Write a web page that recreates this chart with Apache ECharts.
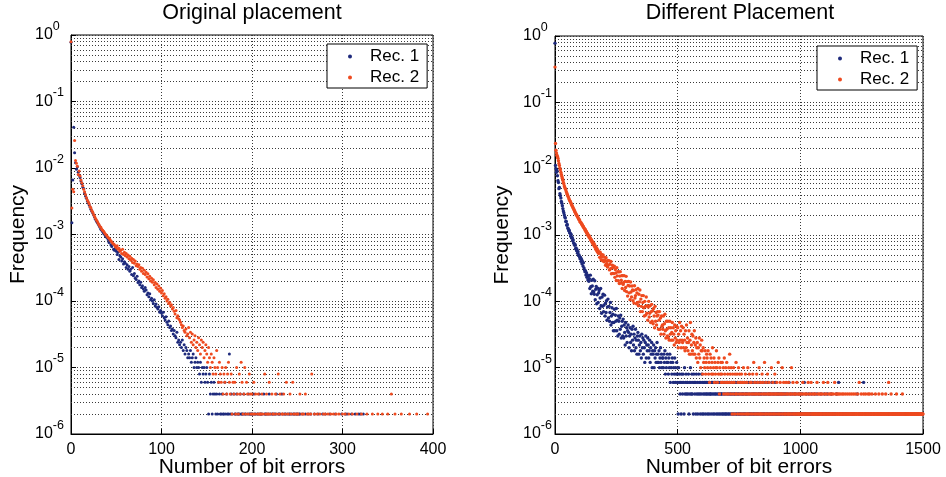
<!DOCTYPE html>
<html><head><meta charset="utf-8">
<script src="https://cdn.jsdelivr.net/npm/echarts@6/dist/echarts.min.js"></script>
<style>html,body{margin:0;padding:0;background:#fff}#c{width:946px;height:477px}</style>
</head><body><div id="c"></div>
<script>
// Frequency = count / TOTAL_FRAMES (counts)
const TOTAL_FRAMES = 500000;

// Left panel: index = number of bit errors (step 1)
const origRec1Counts = [
390000,750,3300,20500,8500,6000,4800,5200,4300,3900,
3600,3200,2900,2600,2450,2100,1900,1750,1600,1500,
1400,1300,1200,1120,1050,980,920,850,800,760,
720,680,640,600,580,550,520,505,480,460,
450,420,380,400,350,330,360,300,290,310,
280,250,270,210,240,230,200,215,180,195,
185,160,175,150,165,140,150,125,160,120,
130,110,105,118,95,100,88,96,80,85,
76,70,80,73,62,66,58,64,52,55,
50,46,52,42,45,40,38,41,34,36,
33,30,34,28,26,29,24,22,25,20,
21,18,19,16,18,15,14,17,12,13,
11,12,10,13,9,11,8,10,9,7,
8,7,9,6,7,8,5,6,7,5,
6,5,4,6,3,5,4,5,3,4,
5,3,1,4,2,3,1,2,3,2,
1,2,1,3,2,1,1,2,1,1,
3,1,2,1,1,8,1,2,1,0,
2,1,1,2,1,1,1,2,1,1,
1,2,1,1,0,1,2,1,1,1,
1,1,2,1,1,0,1,1,2,1,
1,1,0,2,1,1,1,0,1,2,
1,0,1,1,0,1,1,2,0,1,
1,1,0,2,1,0,1,1,0,1,
0,1,1,0,1,0,1,1,0,1,
1,0,1,1,0,0,1,0,0,1,
0,0,1,0,0,1,0,0,0,1,
0,0,0,1,0,0,0,0,1,0,
0,1,0,0,0,0,1,0,0,0,
0,0,1,0,0,0,0,0,0,1,
0,0,0,1,0,1,0,0,0,0,
1,0,0,0,1,0,0,0,1,0,
1,0,0,1
];
const origRec2Counts = [
395000,1250,2400,2200,13000,6500,5900,5300,4000,4500,
3800,3300,3000,2700,2400,2200,2000,1800,1650,1550,
1450,1320,1250,1150,1080,1000,940,880,830,790,
740,700,660,640,600,580,560,530,510,490,
470,450,440,420,400,390,370,360,350,330,
320,340,300,310,280,290,260,300,250,270,
240,260,230,245,215,235,205,220,190,210,
185,200,170,180,165,175,150,160,140,155,
130,145,125,135,115,128,108,118,100,110,
96,104,88,95,80,90,75,84,70,78,
66,72,60,64,55,58,50,53,46,48,
42,44,38,40,35,32,36,28,30,27,
26,24,22,20,21,18,17,19,15,16,
20,14,17,12,16,11,13,15,10,12,
9,14,11,8,13,10,12,7,9,11,
8,6,10,7,5,8,6,4,7,5,
4,9,5,3,6,4,3,5,2,4,
3,5,2,4,6,3,2,4,1,3,
2,3,1,5,2,1,4,2,6,3,
1,2,5,1,3,2,1,4,2,1,
2,1,3,1,2,0,1,2,1,1,
1,2,1,0,4,1,2,1,1,3,
1,0,2,1,1,0,2,1,0,4,
1,2,0,1,1,2,0,1,3,0,
1,0,2,1,0,3,1,0,1,0,
1,1,0,2,0,1,0,1,0,2,
0,1,0,1,0,1,4,0,0,1,
0,0,1,0,0,1,0,0,0,1,
0,1,0,0,1,0,0,1,0,0,
1,0,0,1,0,0,1,0,0,0,
1,0,0,1,0,0,0,1,0,0,
0,1,0,0,0,0,1,0,0,0,
0,1,0,0,0,0,0,1,0,0,
0,0,0,1,0,0,0,0,0,1,
0,0,0,0,1,0,0,0,0,0,
1,0,0,0,2,0,0,0,1,0,
0,0,0,0,0,1,0,0,0,0,
0,0,0,0,1,0,0,0,0,0,
0,0,1,0,0,0,0,0,0,0,
0,0,0,0,1
];

// Right panel: sampled at even numbers of bit errors (x = index * 2)
const diffXStep = 2;
const diffRec1Counts = [
390000,5600,5000,4400,4700,3900,3300,3100,2500,2600,
2100,1950,1800,1600,1500,1380,1250,1150,1080,1000,
930,900,800,800,700,720,640,620,580,590,
540,530,480,510,450,460,410,420,380,370,
350,360,310,320,290,300,265,280,245,250,
235,220,230,200,215,185,200,170,190,160,
150,140,145,125,135,115,125,105,120,100,
110,78,124,83,65,104,85,71,108,70,
64,102,53,76,84,46,63,79,48,67,
73,39,56,78,43,33,58,42,64,35,
44,62,30,47,34,51,26,41,54,28,
42,25,34,48,22,30,40,24,32,18,
24,38,18,31,25,39,18,26,15,30,
25,16,28,19,31,14,21,25,15,27,
14,22,17,11,24,15,20,12,18,22,
17,10,15,20,12,16,9,19,13,21,
11,16,9,14,19,10,13,8,15,17,
13,8,11,15,9,12,7,16,10,14,
8,13,10,6,12,15,7,11,9,14,
11,7,9,13,6,10,8,12,5,9,
8,11,5,9,7,10,6,8,12,6,
8,6,9,5,7,10,6,8,5,7,
7,5,8,6,9,4,7,5,6,8,
6,4,7,5,8,3,6,5,4,7,
6,3,5,4,7,3,5,4,6,3,
4,1,5,3,4,2,3,1,4,3,
2,4,3,1,5,2,3,4,2,3,
3,2,4,1,3,2,5,3,2,4,
2,3,1,4,3,2,3,1,4,2,
3,1,2,4,3,2,1,3,2,4,
1,3,2,1,3,2,3,1,2,3,
2,1,3,2,1,3,2,2,1,3,
2,3,1,2,3,1,2,3,2,1,
3,2,1,3,2,1,2,3,1,2,
2,1,3,1,2,3,1,2,1,3,
1,2,3,1,2,1,3,2,1,2,
3,1,2,1,3,2,1,2,3,1,
2,1,3,2,1,2,1,3,1,2,
1,3,2,1,2,1,3,1,2,1,
2,3,1,2,1,3,1,2,1,3,
1,2,1,3,2,1,1,2,3,1,
2,1,3,1,2,1,2,3,1,2,
1,2,1,3,1,2,1,1,2,3,
1,2,1,1,3,2,1,2,1,1,
2,1,3,1,2,1,1,2,1,3,
1,2,1,1,2,1,2,1,1,2,
1,1,2,1,0,2,1,1,2,1,
1,2,1,1,0,2,1,3,1,1,
2,1,0,1,2,1,1,0,2,1,
1,2,1,0,1,1,2,1,0,1,
2,1,1,0,2,1,0,1,3,1,
1,0,2,1,1,0,1,2,0,1,
1,0,1,2,0,1,1,0,1,2,
0,1,1,0,2,1,0,1,0,1,
1,0,2,0,1,1,0,1,0,2,
1,0,1,0,1,2,0,1,0,1,
0,1,0,2,1,0,1,0,1,0,
1,0,1,0,2,0,1,0,3,0,
1,0,1,0,0,1,0,1,0,0,
1,0,0,1,0,1,0,0,1,0,
0,1,0,0,1,0,0,1,0,0,
1,0,0,0,1,0,2,0,0,1,
0,0,1,0,0,0,1,0,0,3,
0,1,0,0,1,0,0,0,1,0,
0,0,1,0,0,1,0,0,0,1,
0,0,1,0,0,0,1,0,0,0,
1,0,0,0,1,0,0,1,0,0,
0,1,0,0,0,1,0,0,0,1,
0,0,1,0,0,0,0,1,0,0,
1,0,0,0,1,0,0,0,1,0,
0,0,1,0,0,0,0,1,0,0,
0,1,0,0,0,1,0,0,0,0,
1,0,0,0,0,1,0,0,0,1,
0,0,0,1,0,0,0,0,1,0,
0,1,0,0,0,0,1,0,0,1,
0
];
const diffRec2Counts = [
170000,12000,9500,8600,8000,7600,7200,6600,6000,5600,
5100,4800,4400,4100,3800,3600,3350,3100,2950,2750,
2600,2500,2400,2250,2150,2050,1950,1880,1800,1720,
1650,1600,1540,1480,1420,1380,1320,1280,1230,1190,
1150,1100,1070,1030,1000,970,940,910,880,850,
840,795,780,768,735,725,700,672,668,635,
630,595,600,560,565,528,530,495,500,468,
485,445,452,418,428,392,402,370,382,350,
365,330,342,305,325,290,308,275,290,262,
273,230,275,233,211,255,232,205,251,209,
198,232,207,175,227,185,201,165,207,176,
205,149,181,155,199,130,160,176,132,163,
131,170,115,151,134,103,161,121,140,102,
139,93,120,140,94,104,122,78,122,90,
96,122,73,100,81,119,70,99,60,87,
100,67,85,53,98,69,58,85,74,51,
73,47,86,56,61,75,46,67,48,78,
43,64,49,74,35,54,42,61,35,48,
61,40,30,50,42,31,58,33,43,26,
41,50,29,33,43,24,35,45,25,36,
23,39,30,20,42,25,34,22,30,35,
31,19,26,35,19,28,16,30,21,22,
19,30,16,23,32,18,14,25,19,15,
25,14,20,13,25,16,20,13,17,24,
13,20,16,11,22,14,18,12,21,13,
20,10,16,12,24,13,18,10,21,13,
12,20,10,16,13,9,18,10,22,12,
14,9,12,18,8,13,24,8,11,16,
9,15,8,12,18,8,11,14,7,10,
12,6,10,8,14,7,11,5,9,13,
9,4,10,6,7,5,9,4,6,8,
7,5,9,4,6,3,8,5,7,4,
6,10,4,5,7,3,6,4,5,9,
5,3,6,4,7,2,5,4,6,3,
4,6,3,5,2,7,4,3,5,2,
6,3,4,2,5,3,8,4,2,5,
3,1,4,2,5,3,1,4,2,6,
2,4,1,3,5,2,4,1,3,2,
4,1,3,2,5,1,3,2,4,1,
2,3,1,5,2,1,4,2,3,1,
3,2,1,4,2,6,1,3,2,1,
2,4,1,3,2,1,5,2,1,3,
1,2,4,1,3,2,1,6,2,1,
3,1,2,4,1,2,3,1,2,1,
2,5,1,2,3,1,2,1,4,2,
1,2,3,1,2,6,1,2,1,3,
2,1,2,5,1,2,3,1,2,1,
1,3,2,1,2,1,3,1,2,1,
2,1,5,2,1,3,1,2,1,2,
1,2,1,3,1,2,1,1,2,1,
2,1,1,2,1,3,1,2,1,1,
2,1,1,2,1,1,3,1,2,1,
1,2,3,1,1,2,1,1,2,1,
1,2,1,1,3,1,2,1,1,2,
1,1,2,1,1,2,1,3,1,1,
2,1,1,2,1,1,3,1,2,1,
1,2,1,1,2,1,1,2,1,1,
3,1,2,1,1,2,1,1,2,1,
1,2,1,1,1,2,1,1,2,1,
1,1,2,1,1,1,2,1,1,1,
2,1,1,1,2,1,1,1,2,1,
1,1,2,1,1,1,1,2,1,1,
3,1,1,1,2,1,1,1,1,2,
1,1,1,2,1,1,1,1,2,1,
1,2,1,1,1,1,2,1,1,1,
1,1,1,2,1,1,1,1,1,1,
2,1,1,1,1,1,1,2,1,1,
1,1,1,1,2,1,1,1,1,1,
3,1,1,1,1,2,1,1,1,1,
1,1,1,1,1,1,2,1,1,1,
1,1,1,1,1,1,1,1,2,1,
1,1,1,1,1,1,1,1,1,1,
1,1,1,1,1,1,1,1,1,1,
1,1,1,1,1,1,1,1,1,1,
1,1,1,1,1,1,1,1,1,1,
1
];

const panelTitles = ['Original placement', 'Different Placement'];
const seriesNames = ['Rec. 1', 'Rec. 2'];
const xAxisTitle = 'Number of bit errors';
const yAxisTitle = 'Frequency';
const xMaxes = [400, 1500];
const xIntervals = [100, 500];
const yMin = 1e-6, yMax = 1;
const minorMultipliers = [2, 3, 4, 5, 6, 7, 8, 9];
const decadeExponents = [-6, -5, -4, -3, -2, -1];

const FONT = '"Liberation Sans", Arial, Helvetica, sans-serif';
const BLUE = '#1e2a7c';
const ORANGE = '#ee4a1f';
const GRIDC = '#3a3a3a';

function toPoints(counts, step) {
  const out = [];
  counts.forEach((c, i) => { if (c > 0) out.push([i * step, c / TOTAL_FRAMES]); });
  return out;
}
function yLabel(v) {
  const e = Math.round(Math.log10(v));
  return '{b|10}{s|' + e + '}';
}
const minorLineData = [];
decadeExponents.forEach(e => minorMultipliers.forEach(m => minorLineData.push({ yAxis: m * Math.pow(10, e) })));

const panels = [
  { grid: { left: 71, top: 35, width: 362, height: 399 }, titleX: 252, labelMargin: 36, legend: { left: 327, top: 44 },
    dot: 3, data: [toPoints(origRec1Counts, 1), toPoints(origRec2Counts, 1)] },
  { grid: { left: 555, top: 36, width: 368, height: 398 }, titleX: 740, labelMargin: 32, legend: { left: 817, top: 46 },
    dot: 3.4, data: [toPoints(diffRec1Counts, diffXStep), toPoints(diffRec2Counts, diffXStep)] }
];

const dotted = { color: GRIDC, type: [1, 2], width: 1 };
const option = {
  animation: false,
  backgroundColor: '#fff',
  textStyle: { fontFamily: FONT, color: '#000' },
  title: panels.map((p, i) => ({
    text: panelTitles[i], left: p.titleX, textAlign: 'center', top: 2, padding: 0,
    textStyle: { fontSize: 21.5, fontWeight: 'normal', fontFamily: FONT, color: '#000' }
  })),
  legend: panels.map(p => ({
    left: p.legend.left, top: p.legend.top, orient: 'vertical', data: seriesNames,
    icon: 'circle', itemWidth: 4, itemHeight: 4, itemGap: 4, padding: [4, 8, 2, 21],
    borderColor: '#000', borderWidth: 1, backgroundColor: '#fff', selectedMode: false,
    textStyle: { fontSize: 17, fontFamily: FONT, color: '#000', padding: [0, 0, 0, 13], lineHeight: 17 }
  })),
  grid: panels.map(p => Object.assign({ show: true, borderColor: '#000', borderWidth: 1, backgroundColor: 'transparent',
    containLabel: false, outerBoundsMode: 'none' }, p.grid)),
  xAxis: panels.map((p, i) => ({
    gridIndex: i, type: 'value', min: 0, max: xMaxes[i], interval: xIntervals[i],
    axisLine: { show: true, lineStyle: { color: '#000' } },
    axisTick: { show: true, inside: true, length: 5, lineStyle: { color: '#000' } },
    axisLabel: { fontSize: 16, fontFamily: FONT, color: '#000', margin: 8, formatter: v => String(v) },
    splitLine: { show: true, lineStyle: dotted },
    name: xAxisTitle, nameLocation: 'middle', nameGap: 23, nameMoveOverlap: false,
    nameTextStyle: { fontSize: 21, fontFamily: FONT, color: '#000' }
  })),
  yAxis: panels.map((p, i) => ({
    gridIndex: i, type: 'log', logBase: 10, min: yMin, max: yMax, splitNumber: 6,
    axisLine: { show: true, lineStyle: { color: '#000' } },
    axisTick: { show: true, inside: true, length: 5, lineStyle: { color: '#000' } },
    axisLabel: {
      formatter: yLabel, margin: p.labelMargin, align: 'left',
      rich: {
        b: { fontSize: 16, fontFamily: FONT, color: '#000', lineHeight: 16 },
        s: { fontSize: 12.5, fontFamily: FONT, color: '#000', lineHeight: 13, padding: [0, 0, 17, 0] }
      }
    },
    splitLine: { show: true, lineStyle: dotted },
    name: yAxisTitle, nameLocation: 'middle', nameGap: 42, nameMoveOverlap: false,
    nameTextStyle: { fontSize: 21, fontFamily: FONT, color: '#000' }
  })),
  series: []
};
panels.forEach((p, i) => {
  [BLUE, ORANGE].forEach((col, k) => {
    const s = {
      type: 'scatter', name: seriesNames[k], xAxisIndex: i, yAxisIndex: i,
      data: p.data[k], symbol: 'circle', symbolSize: p.dot, silent: true,
      itemStyle: { color: col, opacity: 1 }
    };
    if (k === 0) {
      s.markLine = { silent: true, symbol: 'none', z: 1, animation: false, precision: 12,
        label: { show: false }, lineStyle: dotted, emphasis: { disabled: true }, data: minorLineData };
    }
    option.series.push(s);
  });
});
const chart = echarts.init(document.getElementById('c'), null, { renderer: 'canvas' });
chart.setOption(option);
</script>
</body></html>
